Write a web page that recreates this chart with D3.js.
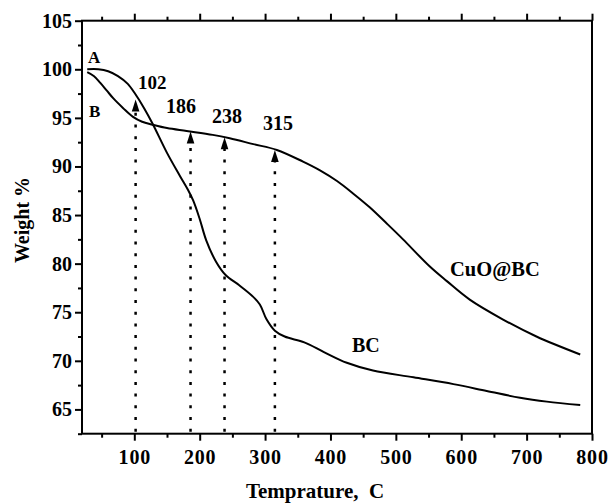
<!DOCTYPE html>
<html>
<head>
<meta charset="utf-8">
<script src="https://cdn.jsdelivr.net/npm/d3@7"></script>
<style>
  html, body { margin: 0; padding: 0; background: #fff; }
  svg { display: block; }
  text { font-family: "Liberation Serif", "Times New Roman", serif; font-weight: bold; fill: #000; }
</style>
</head>
<body>
<svg id="chart" width="609" height="504"></svg>
<script>
// TGA curves: weight (%) vs temperature (°C)
const tempBC   = [28, 45, 60, 75, 90, 102, 115, 128, 150, 170, 182, 190, 200, 210, 225, 240, 260, 280, 292, 302, 315, 330, 360, 390, 425, 465, 527, 588, 639, 690, 731, 782];
const weightBC = [100.0, 100.0, 99.8, 99.3, 98.5, 97.4, 96.0, 94.4, 91.4, 89.0, 87.6, 86.5, 84.6, 82.4, 80.2, 78.8, 77.8, 76.7, 75.8, 74.3, 73.1, 72.5, 71.9, 70.9, 69.8, 69.0, 68.3, 67.6, 66.9, 66.2, 65.8, 65.45];

const tempCuO   = [28, 38, 48, 58, 68, 83, 98, 112, 128, 150, 180, 220, 246, 282, 318, 358, 384, 410, 435, 460, 485, 511, 552, 578, 613, 664, 715, 782];
const weightCuO = [99.7, 99.3, 98.6, 97.8, 97.0, 96.0, 95.1, 94.6, 94.3, 93.95, 93.65, 93.25, 92.9, 92.3, 91.7, 90.5, 89.6, 88.5, 87.2, 85.8, 84.2, 82.5, 79.7, 78.2, 76.3, 74.25, 72.5, 70.65];

// decomposition-onset markers
const markerTemps  = [102, 186, 238, 315];
const markerWeight = [96.9, 93.6, 93.0, 91.7];

const xMajor = [100, 200, 300, 400, 500, 600, 700, 800];
const xMinor = [50, 150, 250, 350, 450, 550, 650, 750];
const yMajor = [65, 70, 75, 80, 85, 90, 95, 100, 105];
const yMinor = [62.5, 67.5, 72.5, 77.5, 82.5, 87.5, 92.5, 97.5, 102.5];

const svg = d3.select("#chart");
const plotL = 82, plotR = 592, plotT = 20.7, plotB = 433.7;

const x = d3.scaleLinear().domain([20, 800]).range([plotL, plotR]);
const y = d3.scaleLinear().domain([62.5, 105]).range([plotB, plotT]);

// axes
const axisStyle = g => {
  g.select(".domain").remove();
  g.selectAll("line").attr("stroke", "#000").attr("stroke-width", 2);
  g.selectAll("text").attr("font-size", 20).attr("font-family", "Liberation Serif, Times New Roman, serif").attr("font-weight", "bold");
};

svg.append("g").attr("transform", `translate(0,${plotB})`)
  .call(d3.axisBottom(x).tickValues(xMajor).tickSize(7).tickPadding(9).tickFormat(d3.format("d")))
  .call(axisStyle)
  .selectAll("text").attr("letter-spacing", 0.8);
svg.append("g").attr("transform", `translate(0,${plotB})`)
  .call(d3.axisBottom(x).tickValues(xMinor).tickSize(4).tickFormat(""))
  .call(axisStyle);
svg.append("g").attr("transform", `translate(0,${plotT})`)
  .call(d3.axisTop(x).tickValues(xMajor).tickSize(7).tickFormat(""))
  .call(axisStyle);
svg.append("g").attr("transform", `translate(0,${plotT})`)
  .call(d3.axisTop(x).tickValues(xMinor).tickSize(4).tickFormat(""))
  .call(axisStyle);
svg.append("g").attr("transform", `translate(${plotL},0)`)
  .call(d3.axisLeft(y).tickValues(yMajor).tickSize(7).tickPadding(3).tickFormat(d3.format("d")))
  .call(axisStyle);
svg.append("g").attr("transform", `translate(${plotL},0)`)
  .call(d3.axisLeft(y).tickValues(yMinor).tickSize(4).tickFormat(""))
  .call(axisStyle);

// plot frame
svg.append("rect")
  .attr("x", plotL).attr("y", plotT)
  .attr("width", plotR - plotL).attr("height", plotB - plotT)
  .attr("fill", "none").attr("stroke", "#000").attr("stroke-width", 2);

// dotted markers with arrowheads
const markers = svg.append("g");
markerTemps.forEach((t, i) => {
  const px = x(t), tipY = y(markerWeight[i]);
  markers.append("line")
    .attr("x1", px).attr("x2", px)
    .attr("y1", plotB - 2).attr("y2", tipY + 9)
    .attr("stroke", "#000").attr("stroke-width", 2.5)
    .attr("stroke-dasharray", "3,8.7");
  markers.append("path")
    .attr("d", `M${px},${tipY} L${px - 3.8},${tipY + 12} L${px + 3.8},${tipY + 12} Z`)
    .attr("fill", "#000");
});

// curves
const line = d3.line().curve(d3.curveCatmullRom.alpha(0.5));
svg.append("path")
  .attr("d", line(tempBC.map((t, i) => [x(t), y(weightBC[i])])))
  .attr("fill", "none").attr("stroke", "#000").attr("stroke-width", 2);
svg.append("path")
  .attr("d", line(tempCuO.map((t, i) => [x(t), y(weightCuO[i])])))
  .attr("fill", "none").attr("stroke", "#000").attr("stroke-width", 2);

// annotations
const note = (tx, ty, s, size) => svg.append("text")
  .attr("x", tx).attr("y", ty).attr("font-size", size).text(s);
note(88, 63, "A", 17);
note(89, 117, "B", 17);
note(138, 89, "102", 19);
note(166, 113, "186", 20);
note(212, 122.5, "238", 20);
note(263, 130, "315", 20);
note(450, 276, "CuO@BC", 20.5);
note(352, 351.5, "BC", 20);

// axis titles
svg.append("text")
  .attr("x", 315).attr("y", 498)
  .attr("text-anchor", "middle").attr("font-size", 21)
  .style("white-space", "pre")
  .text("Temprature,  C");
svg.append("text")
  .attr("transform", "translate(29,220) rotate(-90)")
  .attr("text-anchor", "middle").attr("font-size", 20)
  .text("Weight %");
</script>
</body>
</html>
